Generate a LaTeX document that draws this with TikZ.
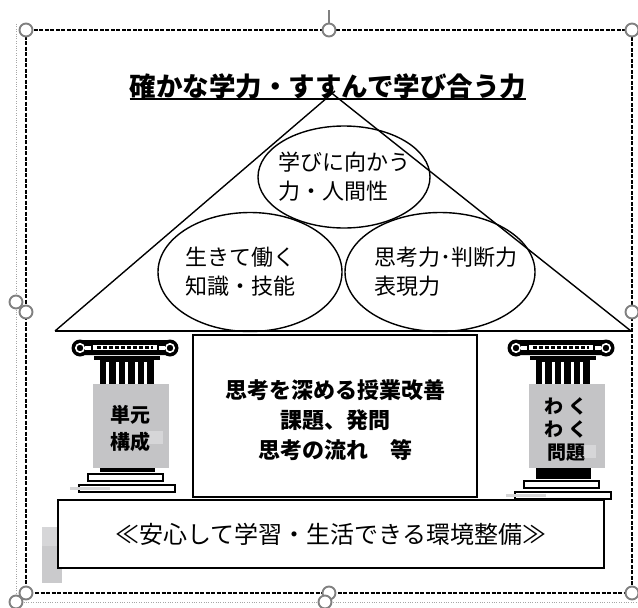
\documentclass[tikz,border=0pt]{standalone}
\usepackage{fontspec}
\newfontfamily\jp{Noto Sans CJK JP}
\usetikzlibrary{shapes.geometric, calc}

\definecolor{pillargray}{RGB}{196,196,198}
\definecolor{patchgray}{RGB}{214,214,216}
\definecolor{handlegray}{RGB}{128,128,128}

\tikzset{
  frameline/.style={line width=1.3pt, dash pattern=on 4pt off 1.5pt},
  handle/.style={circle, draw=handlegray, line width=1.9pt, fill=white, inner sep=0pt, minimum size=13pt},
  bubble/.style={ellipse, draw, line width=1.4pt, inner sep=0pt},
  bubbletext/.style={font=\jp\fontsize{22}{29}\selectfont, align=left, inner sep=0pt},
  boardbox/.style={draw, line width=1.6pt, inner sep=0pt},
  pillartext/.style={font=\jp\bfseries\fontsize{18}{25}\selectfont, align=center, inner sep=0pt},
  stepbox/.style={draw, line width=2.4pt, fill=white},
}

\begin{document}
\begin{tikzpicture}[x=1pt, y=-1pt]
    \useasboundingbox (0,0) rectangle (638,608);

    % Outer dotted frame and the dashed selection frame
    \draw[handlegray!70, dotted, thin] (16,24) -- (16,602) -- (638,602);
    \draw[frameline] (26,30) rectangle (632,593);
    \draw[handlegray, line width=1.2pt] (329,10) -- (329,24);

    % Title
    \node[font=\jp\bfseries\fontsize{26.5}{30}\selectfont, inner sep=0pt] (title) at (328,86) {確かな学力・すすんで学び合う力};
    \draw[line width=1.8pt] (title.south west |- 0,99) -- (title.south east |- 0,99);

    % Roof
    \coordinate (apex) at (332,94);
    \coordinate (baseL) at (55,331);
    \coordinate (baseR) at (631,331);
    \draw[line width=1.4pt] (baseL) -- ($(apex)+(3,-3)$);
    \draw[line width=1.4pt] (baseR) -- ($(apex)+(-3,-3)$);
    \draw[line width=1.4pt] (baseL) -- (baseR);

    % Three ellipses in the roof
    \node[bubble, minimum width=172pt, minimum height=102pt] (top) at (344,177) {};
    \node[bubble, minimum width=184pt, minimum height=119pt] (left) at (250,272) {};
    \node[bubble, minimum width=190pt, minimum height=119pt] (right) at (440,272) {};
    \node[bubbletext] at (top) {学びに向かう\\力・人間性};
    \node[bubbletext] at ($(left)+(-10,0)$) {生きて働く\\知識・技能};
    \node[bubbletext] at ($(right)+(6,0)$) {思考力･判断力\\表現力};

    % Pillars
    \foreach \cx/\dy in {125/0, 561/7} {
      \begin{scope}[shift={(\cx,0)}]
        % capital with curled ends
        \fill[rounded corners=6pt] (-50,340) rectangle (50,355);
        \foreach \s in {-1,1} {
          \fill (\s*45,348) circle (8.5pt);
          \draw[white, line width=1.6pt] (\s*45,348) circle (4.2pt);
          \fill[white] (\s*40,346) rectangle (\s*34,350);
        }
        \fill[white] (-32,345) rectangle (32,350);
        \draw[line width=3pt, dash pattern=on 4pt off 2pt] (-28,347.5) -- (28,347.5);
        % neck and fluted shaft
        \fill (-31,356) rectangle (35,360);
        \fill (-25,360) rectangle (29,386);
        \foreach \i in {0,...,4} {
          \fill[white] (-19+\i*9.5,362) rectangle (-16+\i*9.5,386);
        }
        % base and steps
        \fill (-25,468) rectangle (30,472+\dy);
        \draw[stepbox] (-37,474+\dy) rectangle (38,481+\dy);
        \draw[stepbox] (-46,485+\dy) rectangle (50,492+\dy);
        \fill[pillargray!70] (-55,487+\dy) rectangle (-15,490+\dy);
        % label plate
        \fill[pillargray] (-32,384) rectangle (44,468);
      \end{scope}
    }
    \fill[patchgray] (148,431) rectangle (163,444);
    \fill[patchgray] (580,445) rectangle (596,458);
    \node[pillartext, font=\jp\bfseries\fontsize{20}{27}\selectfont] (unit) at (130,428) {単元\\構成};
    \node[pillartext, font=\jp\bfseries\fontsize{19}{23}\selectfont] (waku) at (566,430) {わ く\\わ く\\問題};

    % Center board
    \node[boardbox, minimum width=284pt, minimum height=162pt] (lesson) at (335,416) {};
    \node[font=\jp\bfseries\fontsize{22}{30}\selectfont, align=center, inner sep=0pt] at ($(lesson)+(0,4)$)
      {思考を深める授業改善\\課題、発問\\思考の流れ　等};

    % Foundation
    \fill[pillargray!90] (42,527) rectangle (62,583);
    \fill[patchgray] (42,527) rectangle (57,546);
    \node[boardbox, line width=2pt, minimum width=546pt, minimum height=68pt, fill=white,
          font=\jp\fontsize{24}{28}\selectfont] (base) at (331,534) {≪安心して学習・生活できる環境整備≫};

    % Selection handles
    \foreach \hx/\hy in {26/30, 329/30, 632/30, 26/312, 632/312, 26/593, 329/593, 632/593,
                         16/302, 16/602, 325/602} {
      \node[handle] at (\hx,\hy) {};
    }
\end{tikzpicture}
\end{document}
